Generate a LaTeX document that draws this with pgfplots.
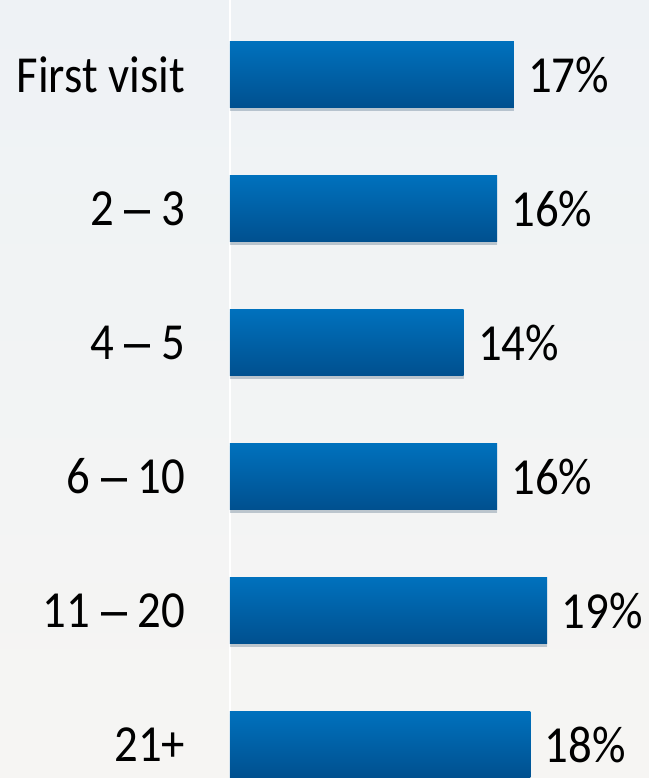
\documentclass[border=0pt]{standalone}
\usepackage{fontspec}
\setmainfont{Carlito}[FakeStretch=0.9]
\newfontfamily\dashfont{Liberation Sans}[FakeStretch=0.9]
\usepackage{pgfplots}
\pgfplotsset{compat=1.18}
\definecolor{BarTop}{HTML}{0071BD}
\definecolor{BarBot}{HTML}{00508F}
\definecolor{BgTop}{HTML}{EEF2F5}
\definecolor{BgMid}{HTML}{E9F1F3}
\definecolor{BgBot}{HTML}{F6F5F3}
\newcommand{\rng}[2]{#1 {\dashfont –} #2}

\begin{document}
\begin{tikzpicture}
  \path[use as bounding box] (-115pt,0) rectangle (209.5pt,389pt);
  \shade[top color=BgTop, middle color=BgMid, bottom color=BgBot]
    (-115pt,0) rectangle (209.5pt,389pt);
  \begin{axis}[
    scale only axis,
    width=209.5pt,
    height=389pt,
    xbar,
    bar width=33pt,
    bar shift=0pt,
    xmin=0, xmax=25.1,
    ymin=-0.556, ymax=5.25,
    y dir=reverse,
    axis x line=none,
    axis y line*=left,
    y axis line style={white, line width=0.7pt, -},
    ytick={0,...,5},
    yticklabels={First visit, \rng{2}{3}, \rng{4}{5}, \rng{6}{10}, \rng{11}{20}, 21+},
    ytick style={draw=none},
    yticklabel style={anchor=east, inner sep=0pt, xshift=-18pt,
      font=\fontsize{26}{30}\selectfont, text=black},
    clip=false,
    point meta=x,
    nodes near coords={\pgfmathprintnumber[assume math mode=true]{\pgfplotspointmeta}\%},
    nodes near coords style={anchor=west, inner sep=0pt, xshift=7pt,
      font=\fontsize{26}{30}\selectfont, text=black},
    every axis plot/.append style={draw=none, top color=BarTop, bottom color=BarBot,
      preaction={fill=black, opacity=0.12, transform canvas={yshift=-1.5pt}}},
  ]
    \addplot coordinates {(17,0)};
    \addplot coordinates {(16,1)};
    \addplot coordinates {(14,2)};
    \addplot coordinates {(16,3)};
    \addplot coordinates {(19,4)};
    \addplot coordinates {(18,5)};
  \end{axis}
\end{tikzpicture}
\end{document}
